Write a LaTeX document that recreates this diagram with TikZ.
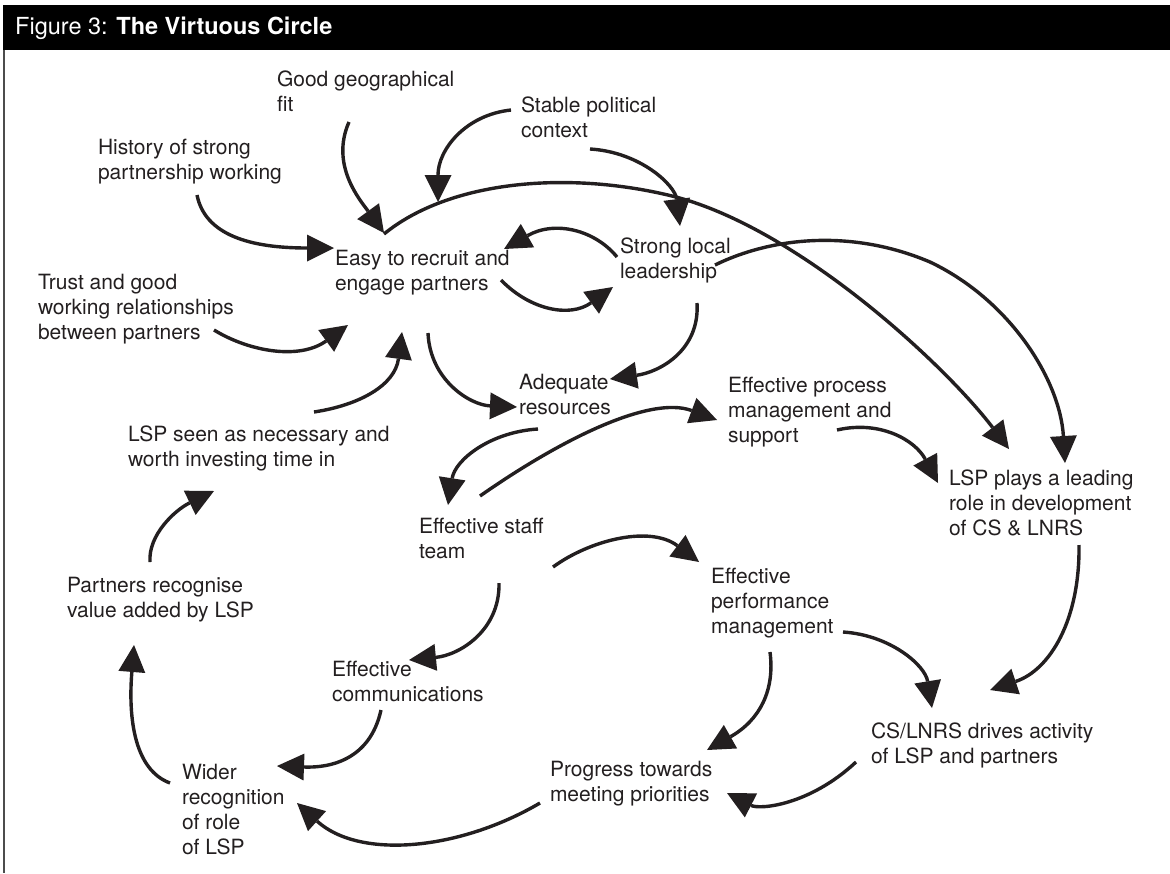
\documentclass[tikz,border=0pt]{standalone}
\usepackage{fontspec}
\setmainfont{TeX Gyre Heros}
\usetikzlibrary{arrows.meta,calc}
\definecolor{ink}{RGB}{35,31,32}
\begin{document}
\begin{tikzpicture}[x=1pt,y=-1pt,
  txt/.style={anchor=north west,inner sep=0pt,outer sep=0pt,align=left,text=ink,
    font=\fontsize{21}{25}\selectfont,execute at begin node=\strut},
  flow/.style={draw=ink,line width=3.4pt,
    -{Triangle[length=27pt,width=27pt,line width=0pt]}}]
\useasboundingbox (0,0) rectangle (1170,873);

% heading bar and frame
\fill[black] (3,5) rectangle (1170,50);
\node[anchor=base west,inner sep=0pt,text=white,font=\fontsize{23.5}{28}\selectfont]
  (title) at (15,34) {Figure 3: \textbf{The Virtuous Circle}};
\draw[line width=1.2pt,black!70] (4,50) -- (4,873);

% factors
\node[txt] (geo)      at (277,70.5)  {Good geographical\\fit};
\node[txt] (stable)   at (521,96.5)  {Stable political\\context};
\node[txt] (hist)     at (98,139.5)  {History of strong\\partnership working};
\node[txt] (easy)     at (335,250.5) {Easy to recruit and\\engage partners};
\node[txt] (strong)   at (620,237.5) {Strong local\\leadership};
\node[txt] (trust)    at (38,274.5)  {Trust and good\\working relationships\\between partners};
\node[txt] (adequate) at (519,374.5) {Adequate\\resources};
\node[txt] (process)  at (728,377.5) {Effective process\\management and\\support};
\node[txt] (seen)     at (128,425.5) {LSP seen as necessary and\\worth investing time in};
\node[txt] (leading)  at (949,469.5) {LSP plays a leading\\role in development\\of CS \& LNRS};
\node[txt] (staff)    at (419,518.5) {Effective staff\\team};
\node[txt] (perf)     at (711,568.5) {Effective\\performance\\management};
\node[txt] (partners) at (67,577.5)  {Partners recognise\\value added by LSP};
\node[txt] (comm)     at (332,661.5) {Effective\\communications};
\node[txt] (cs)       at (871,722.5) {CS/LNRS drives activity\\of LSP and partners};
\node[txt] (progress) at (550,761.5) {Progress towards\\meeting priorities};
\node[txt] (wider)    at (182,764.5) {Wider\\recognition\\of role\\of LSP};

% influences
\draw[flow] ($(geo.north west)+(72,51.5)$) .. controls (330,165) and (360,200) .. ($(easy.north west)+(49,-17.5)$);
\draw[flow] ($(hist.north west)+(99,55.5)$) .. controls (205,235) and (250,248) .. ($(easy.north west)+(-1,-2.5)$);
\draw[flow] ($(stable.north west)+(-10,13.5)$) .. controls (465,115) and (438,150) .. ($(easy.north west)+(103,-48.5)$);
\draw[flow] ($(easy.north west)+(49,-16.5)$) .. controls (450,180) and (570,170) .. (676,197)
  .. controls (800,230) and (945,365) .. ($(leading.north west)+(60,-20.5)$);
\draw[flow] ($(stable.north west)+(69,52.5)$) .. controls (640,152) and (675,185) .. ($(strong.north west)+(60,-11.5)$);
\draw[flow] ($(strong.north west)+(-3,19.5)$) .. controls (595,230) and (555,220) .. ($(easy.north west)+(169,-1.5)$);
\draw[flow] ($(strong.north west)+(95,27.5)$) .. controls (770,238) and (850,228) .. (930,262)
  .. controls (1010,300) and (1060,380) .. ($(leading.north west)+(116,-6.5)$);
\draw[flow] ($(easy.north west)+(166,29.5)$) .. controls (530,310) and (570,318) .. ($(strong.north west)+(-7,49.5)$);
\draw[flow] ($(trust.north west)+(176,55.5)$) .. controls (250,352) and (300,360) .. ($(easy.north west)+(13,74.5)$);
\draw[flow] ($(seen.north west)+(186,-13.5)$) .. controls (360,405) and (395,385) .. ($(easy.north west)+(67,81.5)$);
\draw[flow] ($(easy.north west)+(93,82.5)$) .. controls (430,380) and (470,405) .. ($(adequate.north west)+(-2,32.5)$);
\draw[flow] ($(strong.north west)+(77,65.5)$) .. controls (700,350) and (660,372) .. ($(adequate.north west)+(91,4.5)$);
\draw[flow] ($(adequate.north west)+(19,54.5)$) .. controls (490,432) and (455,460) .. ($(staff.north west)+(29,-13.5)$);
\draw[flow] ($(staff.north west)+(61,-22.5)$) .. controls (560,440) and (650,395) .. ($(process.north west)+(-11,42.5)$);
\draw[flow] ($(process.north west)+(109,52.5)$) .. controls (880,420) and (915,440) .. ($(leading.north west)+(-11,13.5)$);
\draw[flow] ($(partners.north west)+(83,-15.5)$) .. controls (148,535) and (175,510) .. ($(seen.north west)+(86,65.5)$);
\draw[flow] ($(staff.north west)+(134,48.5)$) .. controls (590,540) and (650,525) .. ($(perf.north west)+(-12,-6.5)$);
\draw[flow] ($(staff.north west)+(80,64.5)$) .. controls (500,630) and (460,655) .. ($(comm.north west)+(77,-1.5)$);
\draw[flow] ($(wider.north west)+(-12,18.5)$) .. controls (135,770) and (128,720) .. ($(partners.north west)+(67,67.5)$);
\draw[flow] ($(comm.north west)+(49,48.5)$) .. controls (370,760) and (330,768) .. ($(wider.north west)+(95,1.5)$);
\draw[flow] ($(progress.north west)+(-10,41.5)$) .. controls (460,850) and (360,860) .. ($(wider.north west)+(115,38.5)$);
\draw[flow] ($(perf.north west)+(59,83.5)$) .. controls (775,690) and (760,720) .. ($(progress.north west)+(157,-11.5)$);
\draw[flow] ($(perf.north west)+(132,63.5)$) .. controls (890,635) and (925,665) .. ($(cs.north west)+(61,-14.5)$);
\draw[flow] ($(leading.north west)+(130,75.5)$) .. controls (1080,620) and (1050,670) .. ($(cs.north west)+(119,-32.5)$);
\draw[flow] ($(cs.north west)+(-15,39.5)$) .. controls (810,805) and (760,810) .. ($(progress.north west)+(177,31.5)$);
\end{tikzpicture}
\end{document}
